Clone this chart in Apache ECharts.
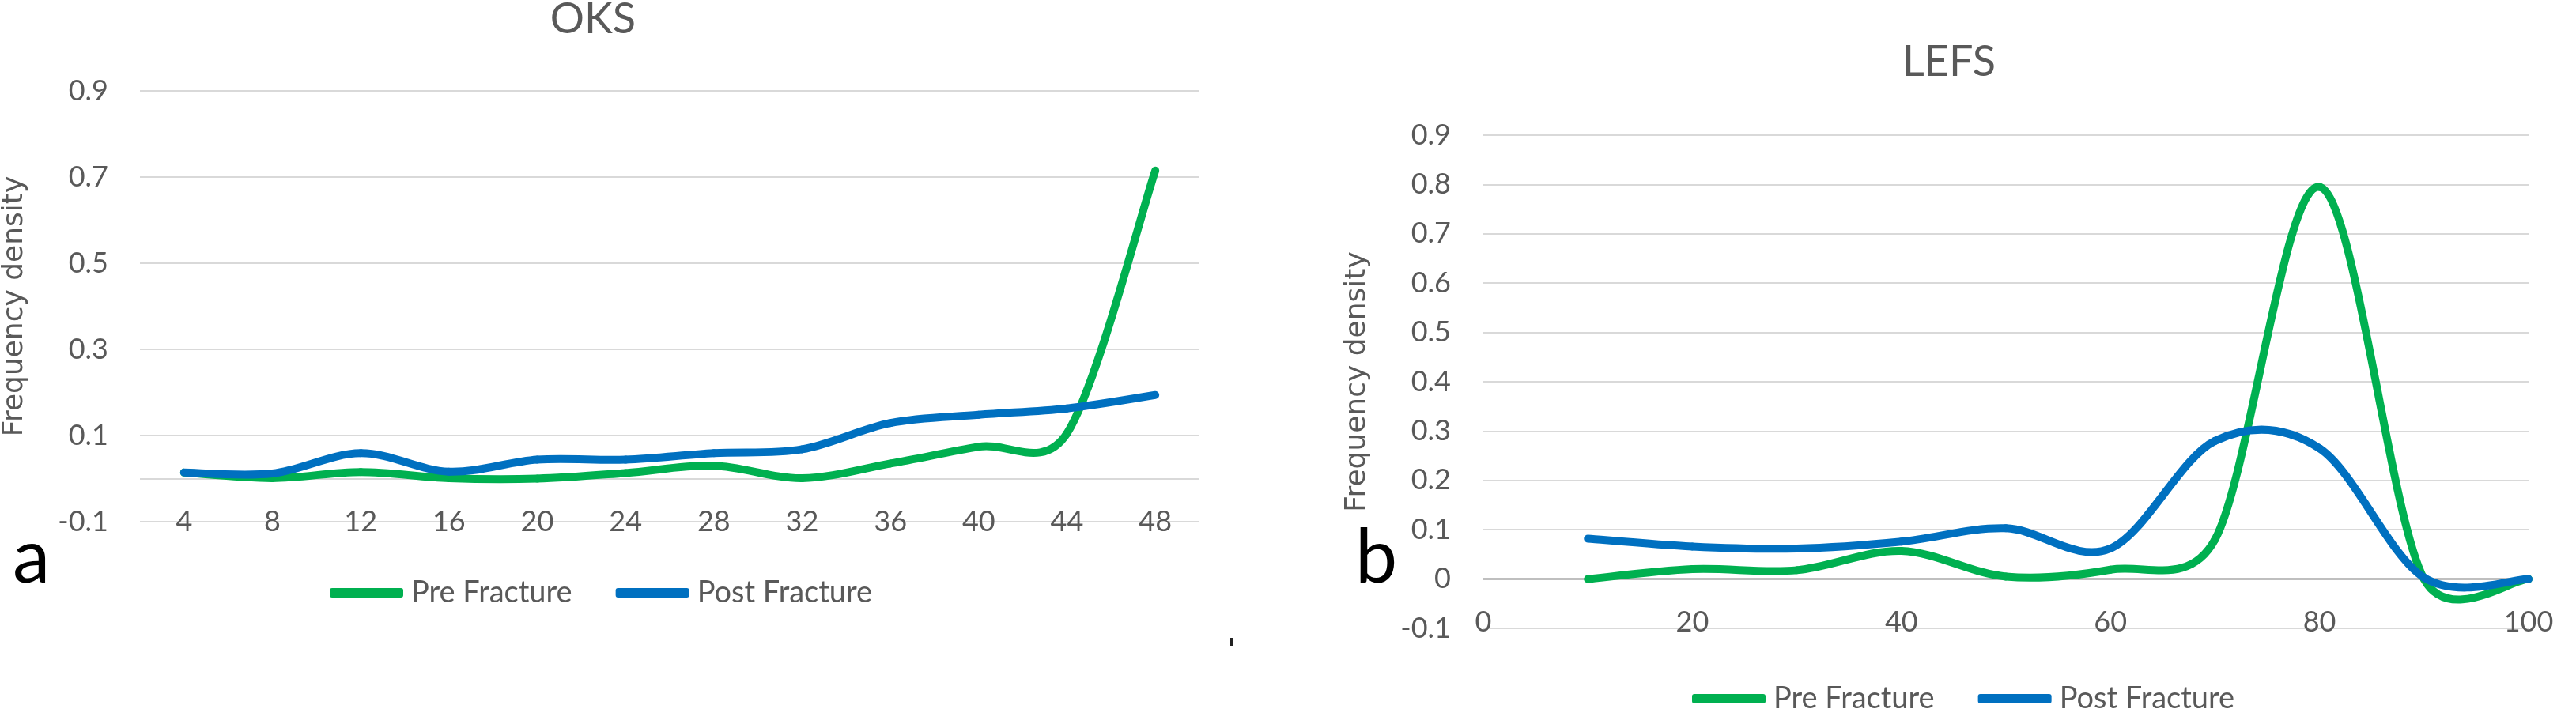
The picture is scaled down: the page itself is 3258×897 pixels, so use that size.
<!DOCTYPE html>
<html>
<head>
<meta charset="utf-8">
<title>OKS / LEFS frequency density</title>
<script src="https://cdn.jsdelivr.net/npm/echarts@6/dist/echarts.min.js"></script>
<style>
html, body { margin: 0; padding: 0; background: #fff; }
#chart { width: 3258px; height: 897px; }
</style>
</head>
<body>
<div id="chart"></div>
<script>
// panel a - OKS (category axis)
var oksScores = ['4', '8', '12', '16', '20', '24', '28', '32', '36', '40', '44', '48'];
var oksPre  = [0.014, 0.001, 0.015, 0.001, 0.0, 0.013, 0.030, 0.001, 0.035, 0.074, 0.105, 0.715];
var oksPost = [0.014, 0.012, 0.059, 0.016, 0.044, 0.044, 0.059, 0.068, 0.129, 0.148, 0.163, 0.194];

// panel b - LEFS (value axis)
var lefsScores = [10, 20, 30, 40, 50, 60, 70, 80, 90, 100];
var lefsPre  = [0.0, 0.020, 0.018, 0.057, 0.005, 0.019, 0.080, 0.795, 0.0, 0.0];
var lefsPost = [0.082, 0.066, 0.062, 0.076, 0.103, 0.062, 0.280, 0.265, 0.003, 0.0];

var seriesNames = ['Pre Fracture', 'Post Fracture'];

var FONT = 'Lato, "Open Sans", sans-serif';
var NAME_FONT = '"DejaVu Sans", sans-serif';
var TEXT = '#595959';
var GREEN = '#00B050', BLUE = '#0070C0';

// excel style smoothing: arm = 1/6 of the chord prev->next, capped at half the adjacent segment
function dist(a, b) { return Math.sqrt((a[0]-b[0])*(a[0]-b[0]) + (a[1]-b[1])*(a[1]-b[1])); }
function arm(a, p, b, side) {
    var vx = b[0] - a[0], vy = b[1] - a[1];
    var L = Math.sqrt(vx*vx + vy*vy);
    if (L === 0) return [p[0], p[1]];
    if (side === 'out') {
        var f = Math.min(1/6, 0.5 * dist(p, b) / L);
        return [p[0] + vx*f, p[1] + vy*f];
    }
    var g = Math.min(1/6, 0.5 * dist(a, p) / L);
    return [p[0] - vx*g, p[1] - vy*g];
}

function curveSeries(name, color, axisIdx, xs, ys) {
    var n = ys.length;
    return {
        name: name,
        type: 'custom',
        xAxisIndex: axisIdx,
        yAxisIndex: axisIdx,
        z: 3,
        itemStyle: { color: color },
        encode: { x: 0, y: 1 },
        data: ys.map(function (v, i) { return [xs[i], v]; }),
        renderItem: function (params, api) {
            var i = params.dataIndex;
            if (i >= n - 1) return null;
            var pt = function (k) {
                k = Math.max(0, Math.min(n - 1, k));
                return api.coord([xs[k], ys[k]]);
            };
            var p0 = pt(i - 1), p1 = pt(i), p2 = pt(i + 1), p3 = pt(i + 2);
            var c1 = arm(p0, p1, p2, 'out');
            var c2 = arm(p1, p2, p3, 'in');
            return {
                type: 'bezierCurve',
                silent: true,
                shape: {
                    x1: p1[0], y1: p1[1], x2: p2[0], y2: p2[1],
                    cpx1: c1[0], cpy1: c1[1], cpx2: c2[0], cpy2: c2[1]
                },
                style: { stroke: color, fill: 'none', lineWidth: 10, lineCap: 'round' }
            };
        }
    };
}

function zeroLine(color, width) {
    return {
        silent: true, symbol: 'none', z: 1,
        label: { show: false },
        lineStyle: { color: color, width: width, type: 'solid' },
        data: [{ yAxis: 0 }]
    };
}

var oksIdx = oksScores.map(function (_, i) { return i; });

var preA = curveSeries(seriesNames[0], GREEN, 0, oksIdx, oksPre);
var postA = curveSeries(seriesNames[1], BLUE, 0, oksIdx, oksPost);
preA.markLine = zeroLine('#d9d9d9', 2);
var preB = curveSeries(seriesNames[0], GREEN, 1, lefsScores, lefsPre);
var postB = curveSeries(seriesNames[1], BLUE, 1, lefsScores, lefsPost);
preB.markLine = zeroLine('#bfbfbf', 3);

var labelStyle = { fontSize: 36, color: TEXT, fontFamily: FONT };
var nameStyle = { fontSize: 36, color: TEXT, fontFamily: NAME_FONT };
var legendBase = {
    data: seriesNames,
    icon: 'roundRect',
    itemWidth: 93,
    itemHeight: 12,
    itemGap: 55,
    textStyle: { fontSize: 38, color: TEXT, fontFamily: FONT, padding: [0, 0, 0, 5] }
};

var chart = echarts.init(document.getElementById('chart'));
chart.setOption({
    animation: false,
    backgroundColor: '#fff',
    grid: [
        { left: 162, right: 1741, top: 115, bottom: 237 },
        { left: 1876, right: 60, top: 171, bottom: 102 }
    ],
    xAxis: [{
        gridIndex: 0,
        type: 'category',
        data: oksScores,
        boundaryGap: true,
        axisLine: { show: false },
        axisTick: { show: false },
        axisLabel: Object.assign({ margin: 0, verticalAlign: 'middle' }, labelStyle),
        splitLine: { show: false }
    }, {
        gridIndex: 1,
        type: 'value',
        min: 0, max: 100, interval: 20,
        axisLine: { show: false },
        axisTick: { show: false },
        axisLabel: Object.assign({ margin: -8, verticalAlign: 'middle' }, labelStyle),
        splitLine: { show: false }
    }],
    yAxis: [{
        gridIndex: 0,
        type: 'value',
        min: -0.1, max: 0.9, interval: 0.2,
        name: 'Frequency density',
        nameLocation: 'middle',
        nameGap: 140,
        nameTextStyle: nameStyle,
        axisLine: { show: false },
        axisTick: { show: false },
        axisLabel: Object.assign({ margin: 40, formatter: function (v) { return v.toFixed(1); } }, labelStyle),
        splitLine: { lineStyle: { color: '#d9d9d9', width: 2 } }
    }, {
        gridIndex: 1,
        type: 'value',
        min: -0.1, max: 0.9, interval: 0.1,
        name: 'Frequency density',
        nameLocation: 'middle',
        nameGap: 141,
        nameTextStyle: nameStyle,
        axisLine: { show: false },
        axisTick: { show: false },
        axisLabel: Object.assign({ margin: 41, formatter: function (v) { return Math.abs(v) < 1e-9 ? '0' : v.toFixed(1); } }, labelStyle),
        splitLine: { lineStyle: { color: '#d9d9d9', width: 2 } }
    }],
    legend: [
        Object.assign({ left: 412, top: 726 }, legendBase),
        Object.assign({ left: 2135, top: 860 }, legendBase)
    ],
    graphic: [
        { type: 'text', x: 750, y: 25, style: { text: 'OKS', fill: TEXT, font: '54px ' + FONT, textAlign: 'center', textVerticalAlign: 'middle' } },
        { type: 'text', x: 2465, y: 79, style: { text: 'LEFS', fill: TEXT, font: '54px ' + FONT, textAlign: 'center', textVerticalAlign: 'middle' } },
        { type: 'text', x: 16, y: 706, style: { text: 'a', fill: '#000', font: '95px ' + FONT, textAlign: 'left', textVerticalAlign: 'middle' } },
        { type: 'text', x: 1714, y: 706, style: { text: 'b', fill: '#000', font: '95px ' + FONT, textAlign: 'left', textVerticalAlign: 'middle' } },
        { type: 'rect', shape: { x: 1556, y: 807, width: 3, height: 10 }, style: { fill: '#222' } }
    ],
    series: [preA, postA, preB, postB]
});
</script>
</body>
</html>
